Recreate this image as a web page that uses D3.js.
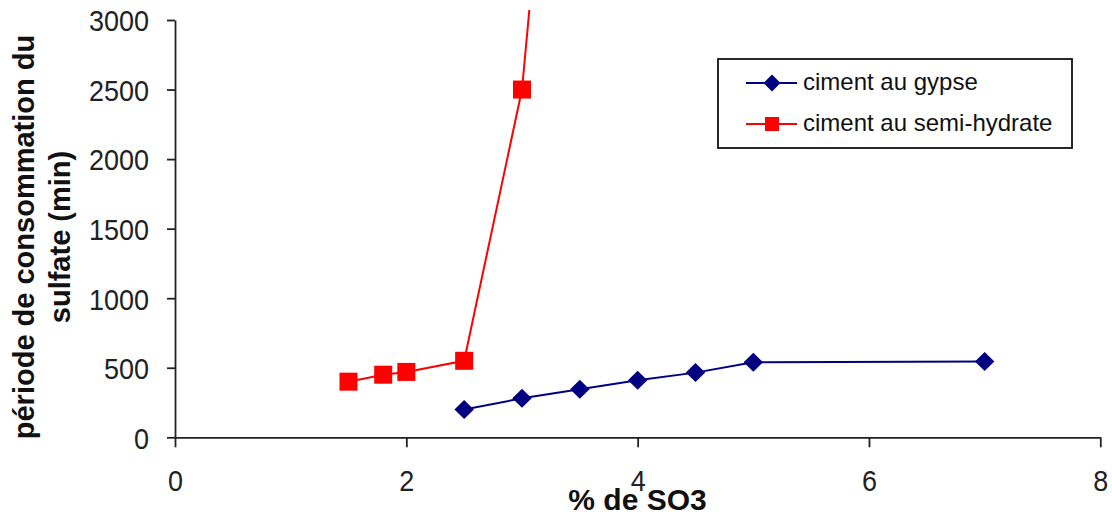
<!DOCTYPE html>
<html>
<head>
<meta charset="utf-8">
<script src="https://cdn.jsdelivr.net/npm/d3@7/dist/d3.min.js"></script>
<style>
  html, body { margin: 0; padding: 0; background: #fff; }
  svg { display: block; }
  text { font-family: "Liberation Sans", Arial, sans-serif; }
</style>
</head>
<body>
<svg id="chart" width="1112" height="518"></svg>
<script>
// ---- data ----
const seriesNames = ["ciment au gypse", "ciment au semi-hydrate"];
const gypseX = [2.5, 3, 3.5, 4, 4.5, 5, 7];
const gypseY = [200, 280, 345, 410, 465, 540, 545];
const semiX = [1.5, 1.8, 2, 2.5, 3, 3.5];
const semiY = [400, 450, 470, 550, 2500, 7000];
const xTicks = [0, 2, 4, 6, 8];
const yTicks = [0, 500, 1000, 1500, 2000, 2500, 3000];
const xTitle = "% de SO3";
const yTitleLines = ["période de consommation du", "sulfate (min)"];

// ---- layout ----
const svg = d3.select("#chart");
const x = d3.scaleLinear().domain([0, 8]).range([175, 1100.3]);
const y = d3.scaleLinear().domain([0, 3000]).range([437.3, 20]);
const axisColor = "#222";

svg.append("defs").append("clipPath").attr("id", "plotClip")
  .append("rect").attr("x", 140).attr("y", 10).attr("width", 972).attr("height", 480);

// y axis
const gy = svg.append("g").attr("transform", `translate(${x(0)},0)`)
  .call(d3.axisLeft(y).tickValues(yTicks).tickSize(8).tickSizeOuter(0).tickFormat(d3.format("d")));
gy.select(".domain").attr("stroke", axisColor).attr("stroke-width", 1.8);
gy.selectAll(".tick line").attr("stroke", axisColor).attr("stroke-width", 1.8);
gy.selectAll(".tick text")
  .attr("x", -28.9).attr("dy", "0.36em")
  .attr("transform", "scale(0.9,1)")
  .style("font-size", "30px").attr("fill", "#222");

// x axis
const gx = svg.append("g").attr("transform", `translate(0,${y(0)})`)
  .call(d3.axisBottom(x).tickValues(xTicks).tickSize(10).tickSizeOuter(0).tickFormat(d3.format("d")));
gx.select(".domain").attr("stroke", axisColor).attr("stroke-width", 1.8);
gx.selectAll(".tick line").attr("stroke", axisColor).attr("stroke-width", 1.8);
gx.selectAll(".tick text")
  .attr("y", 53.5).attr("dy", 0)
  .attr("transform", "scale(0.9,1)")
  .style("font-size", "30px").attr("fill", "#222");

// titles
svg.append("text").attr("x", 637.5).attr("y", 510).attr("text-anchor", "middle")
  .style("font-size", "30px").style("font-weight", "bold").attr("fill", "#111").text(xTitle);

const yt = svg.append("text").attr("transform", "translate(0,237) rotate(-90)")
  .attr("text-anchor", "middle").style("font-size", "29px").style("font-weight", "bold").attr("fill", "#111");
yt.selectAll("tspan").data(yTitleLines).enter().append("tspan")
  .attr("x", 0).attr("y", (d, i) => i === 0 ? 33.5 : 70).text(d => d);

// series
const plot = svg.append("g").attr("clip-path", "url(#plotClip)");
const line = d3.line().x(d => x(d[0])).y(d => y(d[1]));
const gypse = gypseX.map((v, i) => [v, gypseY[i]]);
const semi = semiX.map((v, i) => [v, semiY[i]]);
const blue = "#000080", red = "#ff0000";

plot.append("path").datum(semi).attr("d", line).attr("fill", "none").attr("stroke", red).attr("stroke-width", 2);
plot.append("path").datum(gypse).attr("d", line).attr("fill", "none").attr("stroke", blue).attr("stroke-width", 2);

function diamond(cx, cy, hw, hh) {
  return `M${cx},${cy - hh}L${cx + hw},${cy}L${cx},${cy + hh}L${cx - hw},${cy}Z`;
}
plot.selectAll(".sq").data(semi).enter().append("rect")
  .attr("x", d => x(d[0]) - 9).attr("y", d => y(d[1]) - 9)
  .attr("width", 18).attr("height", 18).attr("fill", red);
plot.selectAll(".dm").data(gypse).enter().append("path")
  .attr("d", d => diamond(x(d[0]), y(d[1]), 9.7, 9.5)).attr("fill", blue);

// legend
const lg = svg.append("g");
lg.append("rect").attr("x", 718).attr("y", 59).attr("width", 354).attr("height", 89)
  .attr("fill", "#fff").attr("stroke", "#111").attr("stroke-width", 1.8);
const rows = [83, 124];
const colors = [blue, red];
rows.forEach((ry, i) => {
  lg.append("line").attr("x1", 746).attr("x2", 797).attr("y1", ry).attr("y2", ry)
    .attr("stroke", colors[i]).attr("stroke-width", 2);
  if (i === 0) lg.append("path").attr("d", diamond(772, ry, 8.5, 8.5)).attr("fill", blue);
  else lg.append("rect").attr("x", 765).attr("y", ry - 7).attr("width", 14).attr("height", 14).attr("fill", red);
  lg.append("text").attr("x", 803).attr("y", ry + 7).style("font-size", "24px").attr("fill", "#111").text(seriesNames[i]);
});
</script>
</body>
</html>
